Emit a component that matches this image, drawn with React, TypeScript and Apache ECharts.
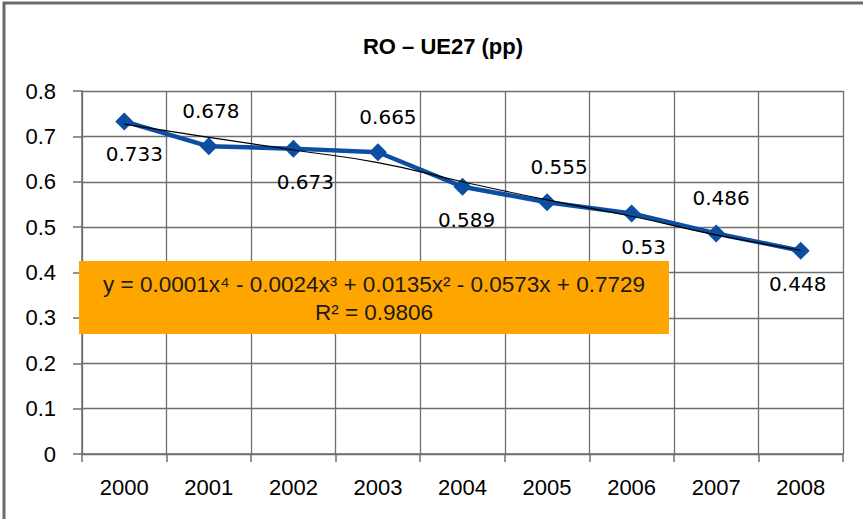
import React, { useEffect, useRef } from "react";
import * as echarts from "echarts";

const years = ["2000", "2001", "2002", "2003", "2004", "2005", "2006", "2007", "2008"];
const values = [0.733, 0.678, 0.673, 0.665, 0.589, 0.555, 0.53, 0.486, 0.448];
const trendValues = [0.727, 0.698, 0.670, 0.642, 0.600, 0.560, 0.524, 0.483, 0.449];
const labelSides = ["bottom", "top", "bottom", "top", "bottom", "top", "bottom", "top", "bottom"];
const labelDx = [10, 2, 12, 10, 4, 12, 12, 5, -3];
const titleText = "RO \u2013 UE27 (pp)";
const equationLine = "y = 0.0001x\u2074 - 0.0024x\u00b3 + 0.0135x\u00b2 - 0.0573x + 0.7729";
const r2Line = "R\u00b2 = 0.9806";

export default function App() {
  const ref = useRef<HTMLDivElement>(null);
  useEffect(() => {
    const chart = echarts.init(ref.current!, null, { renderer: "svg" });
    const gridColor = "#6e6e6e";
    chart.setOption({
      animation: false,
      backgroundColor: "#ffffff",
      title: {
        text: titleText,
        left: 438,
        top: 30,
        textAlign: "center",
        textStyle: { fontFamily: "Liberation Sans", fontWeight: "bold", fontSize: 22, color: "#000" },
      },
      grid: { left: 82, right: 20, top: 91, bottom: 65, containLabel: false },
      xAxis: {
        type: "category",
        data: years,
        boundaryGap: true,
        axisLine: { lineStyle: { color: gridColor, width: 1.5 } },
        axisTick: { show: true, length: 8, lineStyle: { color: gridColor, width: 1.5 } },
        splitLine: { show: true, lineStyle: { color: gridColor, width: 1.3 } },
        axisLabel: { margin: 22, fontFamily: "Liberation Sans", fontSize: 22, color: "#000" },
      },
      yAxis: {
        type: "value",
        min: 0,
        max: 0.8,
        interval: 0.1,
        axisLine: { show: true, lineStyle: { color: gridColor, width: 1.5 } },
        axisTick: { show: true, length: 9, lineStyle: { color: gridColor, width: 1.5 } },
        splitLine: { show: true, lineStyle: { color: gridColor, width: 1.3 } },
        axisLabel: {
          margin: 26,
          fontFamily: "Liberation Sans",
          fontSize: 22,
          color: "#000",
          formatter: (v: number) => String(Math.round(v * 10) / 10),
        },
      },
      series: [
        {
          type: "line",
          data: values.map((v, i) => ({
            value: v,
            label: {
              position: labelSides[i],
              distance: labelSides[i] === "top" ? 16 : 14,
              offset: [labelDx[i], 0],
            },
          })),
          lineStyle: { color: "#0b4ea2", width: 4.5 },
          itemStyle: { color: "#0b4ea2" },
          symbol: "diamond",
          symbolSize: 18,
          z: 2,
          label: {
            show: true,
            fontFamily: "DejaVu Sans",
            fontSize: 20,
            color: "#000",
            formatter: (p: any) => String(p.value),
          },
        },
        {
          type: "line",
          data: trendValues,
          smooth: true,
          symbol: "none",
          lineStyle: { color: "#000", width: 1.2 },
          z: 3,
          silent: true,
        },
      ],
      graphic: [
        {
          type: "polyline",
          shape: { points: [[4, 519], [4, 3], [863, 3]] },
          style: { stroke: "#6b6b6b", lineWidth: 3, fill: "none" },
          silent: true,
        },
        {
          type: "rect",
          z: 100,
          shape: { x: 79, y: 261, width: 590, height: 73 },
          style: { fill: "#ffa500" },
        },
        {
          type: "text",
          z: 101,
          x: 374,
          y: 284,
          style: {
            text: equationLine,
            align: "center",
            verticalAlign: "middle",
            fontFamily: "Liberation Sans",
            fontSize: 22.5,
            fill: "#1a1a1a",
          },
        },
        {
          type: "text",
          z: 101,
          x: 374,
          y: 312,
          style: {
            text: r2Line,
            align: "center",
            verticalAlign: "middle",
            fontFamily: "Liberation Sans",
            fontSize: 22.5,
            fill: "#1a1a1a",
          },
        },
      ],
    });
    return () => chart.dispose();
  }, []);
  return <div ref={ref} style={{ width: 863, height: 519, position: "absolute", left: 0, top: 0 }} />;
}
